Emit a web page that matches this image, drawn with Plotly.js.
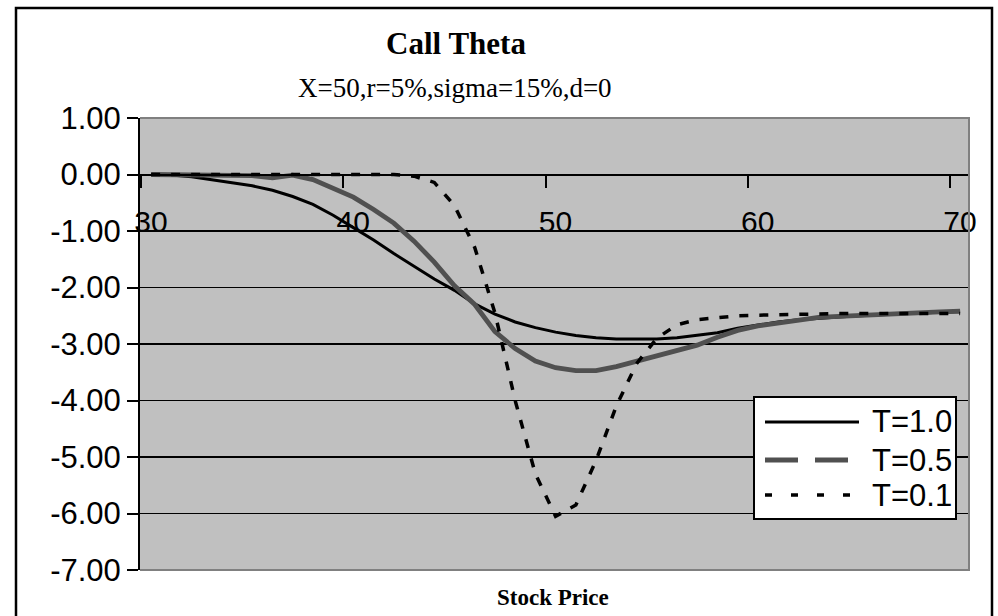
<!DOCTYPE html>
<html><head><meta charset="utf-8">
<script src="https://cdn.plot.ly/plotly-3.0.1.min.js"></script>
<style>
html,body{margin:0;padding:0;background:#fff;overflow:hidden}
#chart{width:998px;height:616px;position:absolute;left:0;top:0}
</style></head><body>
<div id="chart"></div>
<script>
// ---- data ----
const stockPrice = [30.5,31.5,32.5,33.5,34.5,35.5,36.5,37.5,38.5,39.5,40.5,41.5,42.5,43.5,44.5,45.5,46.5,47.5,48.5,49.5,50.5,51.5,52.5,53.5,54.5,55.5,56.5,57.5,58.5,59.5,60.5,61.5,62.5,63.5,64.5,65.5,66.5,67.5,68.5,69.5,70.5];
const thetaT10 = [0.00,-0.01,-0.04,-0.09,-0.14,-0.20,-0.28,-0.39,-0.53,-0.72,-0.94,-1.16,-1.40,-1.63,-1.85,-2.05,-2.29,-2.47,-2.61,-2.71,-2.79,-2.85,-2.89,-2.91,-2.91,-2.91,-2.89,-2.85,-2.80,-2.72,-2.66,-2.61,-2.57,-2.54,-2.52,-2.50,-2.48,-2.47,-2.45,-2.44,-2.42];
const thetaT05 = [0.00,0.00,0.00,0.00,-0.01,-0.02,-0.06,-0.01,-0.09,-0.25,-0.40,-0.62,-0.86,-1.18,-1.55,-1.97,-2.30,-2.78,-3.08,-3.30,-3.42,-3.47,-3.47,-3.40,-3.30,-3.20,-3.12,-3.02,-2.88,-2.76,-2.68,-2.63,-2.57,-2.53,-2.51,-2.49,-2.47,-2.45,-2.44,-2.43,-2.42];
const thetaT01 = [0.00,0.00,0.00,0.00,0.00,0.00,0.00,0.00,0.00,0.00,0.00,0.00,0.00,-0.03,-0.14,-0.55,-1.29,-2.45,-4.00,-5.30,-6.05,-5.85,-5.06,-4.10,-3.35,-2.90,-2.66,-2.57,-2.53,-2.50,-2.49,-2.48,-2.47,-2.47,-2.46,-2.46,-2.46,-2.46,-2.46,-2.46,-2.46];
const seriesNames = ['T=1.0','T=0.5','T=0.1'];
const xTickVals = [30,40,50,60,70];
const yTickVals = [1,0,-1,-2,-3,-4,-5,-6,-7];
const yTickText = ['1.00','0.00','-1.00','-2.00','-3.00','-4.00','-5.00','-6.00','-7.00'];
const chartTitle = 'Call Theta';
const chartSubtitle = 'X=50,r=5%,sigma=15%,d=0';
const xTitle = 'Stock Price';

// ---- layout helpers (pixel -> paper) ----
const W = 998, H = 616, ML = 140, MR = 29, MT = 118, MB = 46;
const PW = W - ML - MR, PH = H - MT - MB;
const PX = p => (p - ML) / PW;
const PY = p => (H - MB - p) / PH;

const sans = 'Liberation Sans, Arial, sans-serif';
const serif = 'Liberation Serif, Times New Roman, serif';

const styles = [
  {color:'#000000', width:3, dash:'solid'},
  {color:'#505050', width:4.8, dash:'solid'},
  {color:'#000000', width:3.5, dash:'9px,11px'}
];
const legendDash = ['solid','33px,17px','7px,19px'];
const seriesY = [thetaT10, thetaT05, thetaT01];

const traces = seriesY.map((ys, i) => ({
  type:'scatter', mode:'lines', name: seriesNames[i],
  x: stockPrice, y: ys, line: styles[i], showlegend:false, hoverinfo:'skip'
}));

const shapes = [
  // outer chart frame
  {type:'path', xref:'paper', yref:'paper',
   path:`M${PX(16)},${PY(640)} L${PX(16)},${PY(8)} L${PX(992)},${PY(8)} L${PX(992)},${PY(640)}`,
   line:{color:'#000', width:2.5}},
  // plot area border (top/right/bottom, gray)
  {type:'path', xref:'paper', yref:'paper', path:'M0,1 L1,1 L1,0 L0,0',
   line:{color:'#808080', width:2}, layer:'above'},
  // legend box
  {type:'rect', xref:'paper', yref:'paper', x0:PX(754), x1:PX(956), y0:PY(519), y1:PY(397),
   fillcolor:'#ffffff', line:{color:'#000', width:2}, layer:'above'}
];
const legY = [422, 460, 495];
const annotations = [
  {text:chartSubtitle, xref:'paper', yref:'paper', x:PX(455), y:PY(88), xanchor:'center', yanchor:'middle',
   showarrow:false, font:{family:serif, size:27, color:'#000'}},
  {text:xTitle, xref:'paper', yref:'paper', x:PX(553), y:PY(597), xanchor:'center', yanchor:'middle',
   showarrow:false, font:{family:serif, size:23, color:'#000', weight:700}}
];
seriesNames.forEach((n, i) => {
  shapes.push({type:'line', xref:'paper', yref:'paper', x0:PX(765), x1:PX(859), y0:PY(legY[i]), y1:PY(legY[i]),
    line:{color:styles[i].color, width:styles[i].width, dash:legendDash[i]}, layer:'above'});
  annotations.push({text:n, xref:'paper', yref:'paper', x:PX(954), y:PY(legY[i]), xanchor:'right', yanchor:'middle',
    showarrow:false, font:{family:sans, size:31, color:'#000'}});
});

const layout = {
  width:W, height:H,
  margin:{l:ML, r:MR, t:MT, b:MB, pad:0},
  paper_bgcolor:'#ffffff', plot_bgcolor:'#C0C0C0',
  showlegend:false,
  title:{text:chartTitle, xref:'paper', x:PX(456), xanchor:'center', yref:'container', y:1-43/H, yanchor:'middle',
         font:{family:serif, size:31, color:'#000', weight:700}},
  xaxis:{range:[29.95,70.94], tickvals:xTickVals, anchor:'free', position:0.875,
         showline:true, linecolor:'#000', linewidth:2, ticks:'outside', ticklen:12, tickwidth:2, tickcolor:'#000',
         showgrid:false, zeroline:false, ticklabelshift:10, ticklabelstandoff:8,
         tickfont:{family:sans, size:30, color:'#000'}},
  yaxis:{range:[-7,1], tickvals:yTickVals, ticktext:yTickText,
         showline:true, linecolor:'#000', linewidth:2, ticks:'outside', ticklen:11, tickwidth:2, tickcolor:'#000',
         showgrid:true, gridcolor:'#000', gridwidth:1.3, zeroline:false, ticklabelstandoff:0,
         tickfont:{family:sans, size:31, color:'#000'}},
  shapes:shapes, annotations:annotations
};
Plotly.newPlot('chart', traces, layout, {displayModeBar:false, staticPlot:true});
</script>
</body></html>
